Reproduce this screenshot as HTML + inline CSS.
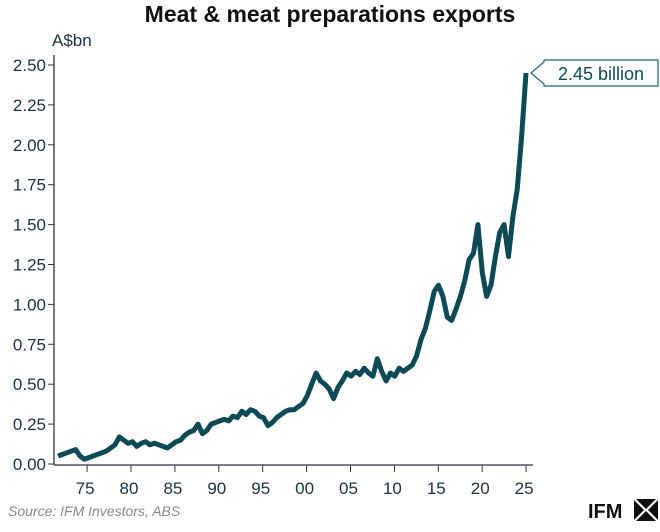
<!DOCTYPE html>
<html><head><meta charset="utf-8"><style>
body{margin:0;background:#fff;width:660px;height:527px;overflow:hidden;font-family:"Liberation Sans",sans-serif}
</style></head><body>
<svg id="chart" width="660" height="527" xmlns="http://www.w3.org/2000/svg">
<text x="330" y="22" text-anchor="middle" font-size="23" font-weight="bold" fill="#111">Meat &amp; meat preparations exports</text>
<text x="52" y="46" font-size="17" fill="#1a3340">A$bn</text>
<g id="axes"></g>
<path id="series" fill="none" stroke="#0d4a55" stroke-width="5" stroke-linejoin="round"/>
<g>
<path d="M531 73 L544 62 L544 60 L658 60 L658 86 L544 86 L544 84 Z" fill="#fff" stroke="#1f6670" stroke-width="1.2"/>
<text x="601" y="80" text-anchor="middle" font-size="18" fill="#0d4a55">2.45 billion</text>
</g>
<text x="8" y="516" font-size="14" font-style="italic" fill="#888">Source: IFM Investors, ABS</text>
<g>
<text x="588" y="518" font-size="20" font-weight="bold" fill="#111">IFM</text>
<path d="M636 499 L656 499 L646 509 Z M636 521 L656 521 L646 511 Z M634 500 L644 510 L634 520 Z M658 500 L648 510 L658 520 Z" fill="#111"/>
</g>
</svg>
<script>
const values=[.05,.06,.07,.08,.09,.05,.03,.04,.05,.06,.07,.08,.10,.12,.17,.15,.13,.14,.11,.13,.14,.12,.13,.12,.11,.10,.12,.14,.15,.18,.20,.21,.25,.19,.21,.25,.26,.27,.28,.27,.30,.29,.33,.31,.34,.33,.30,.29,.24,.26,.29,.31,.33,.34,.34,.36,.38,.43,.50,.57,.52,.50,.47,.41,.48,.52,.57,.55,.58,.56,.60,.57,.55,.66,.58,.52,.57,.55,.60,.58,.60,.62,.68,.78,.85,.96,1.08,1.12,1.05,.92,.90,.97,1.05,1.15,1.28,1.32,1.50,1.20,1.05,1.12,1.30,1.45,1.50,1.30,1.55,1.72,2.05,2.45];
const startYear=1971.7, stepYears=0.498;
const yTicks=[0,0.25,0.5,0.75,1,1.25,1.5,1.75,2,2.25,2.5];
const xTickYears=[1975,1980,1985,1990,1995,2000,2005,2010,2015,2020,2025];
const xTickLabels=["75","80","85","90","95","00","05","10","15","20","25"];
const X=y=>131+(y-1980)*8.78, Y=v=>464-v*159.6;
const NS="http://www.w3.org/2000/svg", ax=document.getElementById('axes');
function mk(t,a,p){const e=document.createElementNS(NS,t);for(const k in a)e.setAttribute(k,a[k]);(p||ax).appendChild(e);return e;}
const yl=mk('line',{x1:54,x2:54,y1:Y(2.5)-10,y2:465,stroke:'#334',"stroke-width":1.3});


const xl=mk('line',{x1:54,x2:533,y1:465,y2:465,stroke:'#334',"stroke-width":1.3});


yTicks.forEach(v=>{
 mk('line',{x1:48,x2:54,y1:Y(v),y2:Y(v),stroke:'#334'});
 const t=mk('text',{x:46,y:Y(v)+6,"text-anchor":"end","font-size":17,fill:'#1a3340'});
 t.textContent=v.toFixed(2);
 
 
});
xTickYears.forEach((yr,i)=>{
 mk('line',{x1:X(yr),x2:X(yr),y1:465,y2:472,stroke:'#334'});
 const t=mk('text',{x:X(yr)-2,y:494,"text-anchor":"middle","font-size":17,fill:'#1a3340'});
 t.textContent=xTickLabels[i];
 
 
});
document.getElementById('series').setAttribute('d',values.map((v,i)=>(i?'L':'M')+X(startYear+i*stepYears).toFixed(1)+' '+Y(v).toFixed(1)).join(' '));
</script>
</body></html>
